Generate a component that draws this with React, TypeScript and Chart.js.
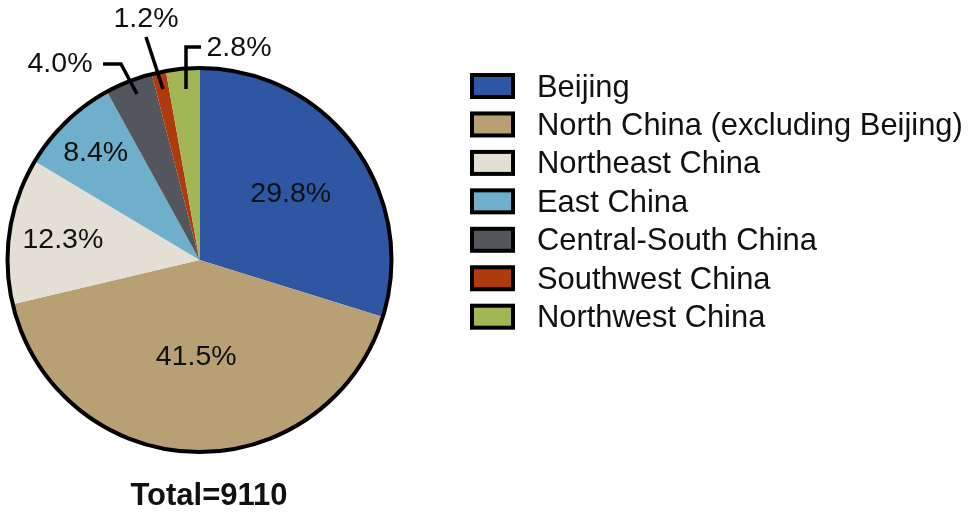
import { useEffect, useRef } from 'react';
import { Chart, registerables } from 'chart.js';

Chart.register(...registerables);

const regions = [
  'Beijing',
  'North China (excluding Beijing)',
  'Northeast China',
  'East China',
  'Central-South China',
  'Southwest China',
  'Northwest China',
];
const shares = [29.8, 41.5, 12.3, 8.4, 4.0, 1.2, 2.8];
const colors = ['#2F56A3', '#B89F74', '#E3DFD4', '#6FAFCB', '#53565C', '#AE3A0E', '#A1B654'];

// how far out the label sits inside its slice, as a part of the radius (null = outside with a leader)
const labelRadius = [0.59, 0.5, 0.72, 0.78, null, null, null];
// outside labels: slice index, text centre, leader polyline
const leaders = [
  { index: 4, x: 60, y: 64, line: [[137, 94], [121, 64], [103, 64]] },
  { index: 5, x: 146, y: 19, line: [[163, 89], [146, 37]] },
  { index: 6, x: 239, y: 48, line: [[186, 89], [186, 47], [201, 47]] },
];

const FONT = '"Liberation Sans", Arial, sans-serif';

const piePieces = {
  id: 'piePieces',
  afterDatasetsDraw(chart: Chart) {
    const { ctx } = chart;
    const arcs = chart.getDatasetMeta(0).data as any[];
    const { x, y, outerRadius } = arcs[0];

    ctx.save();
    // black ring round the pie
    ctx.strokeStyle = '#000';
    ctx.lineWidth = 4;
    ctx.beginPath();
    ctx.arc(x, y, outerRadius, 0, Math.PI * 2);
    ctx.stroke();

    ctx.lineWidth = 3.5;
    ctx.fillStyle = '#111';
    ctx.font = `28.5px ${FONT}`;
    ctx.textAlign = 'center';
    ctx.textBaseline = 'middle';
    arcs.forEach((arc, i) => {
      const r = labelRadius[i];
      if (r === null) return;
      const mid = (arc.startAngle + arc.endAngle) / 2;
      ctx.fillText(
        `${shares[i].toFixed(1)}%`,
        x + Math.cos(mid) * outerRadius * r,
        y + Math.sin(mid) * outerRadius * r + 1.5
      );
    });

    leaders.forEach((l) => {
      ctx.fillText(`${shares[l.index].toFixed(1)}%`, l.x, l.y);
      ctx.beginPath();
      l.line.forEach(([px, py], i) => (i ? ctx.lineTo(px, py) : ctx.moveTo(px, py)));
      ctx.stroke();
    });

    // total under the pie
    ctx.font = `bold 31px ${FONT}`;
    ctx.fillText('Total=9110', 209, 496);

    // legend
    ctx.font = `30.9px ${FONT}`;
    ctx.textAlign = 'left';
    ctx.lineWidth = 4;
    regions.forEach((name, i) => {
      const top = 75 + i * 38.45;
      ctx.fillStyle = colors[i];
      ctx.fillRect(472, top, 41, 22);
      ctx.strokeRect(472, top, 41, 22);
      ctx.fillStyle = '#111';
      ctx.fillText(name, 537, top + 13);
    });
    ctx.restore();
  },
};

export default function App() {
  const canvasRef = useRef<HTMLCanvasElement>(null);

  useEffect(() => {
    if (!canvasRef.current) return;
    const chart = new Chart(canvasRef.current, {
      type: 'pie',
      data: {
        labels: regions,
        datasets: [{ data: shares, backgroundColor: colors, borderWidth: 0 }],
      },
      options: {
        responsive: false,
        animation: false,
        layout: { padding: { left: 7, top: 68, right: 577, bottom: 64 } },
        plugins: {
          legend: { display: false },
          tooltip: { enabled: false },
        },
      },
      plugins: [piePieces],
    });
    return () => chart.destroy();
  }, []);

  return (
    <div style={{ position: 'absolute', left: 0, top: 0, width: 969, height: 516, background: '#fff' }}>
      <canvas ref={canvasRef} width={969} height={516} style={{ display: 'block' }} />
    </div>
  );
}
